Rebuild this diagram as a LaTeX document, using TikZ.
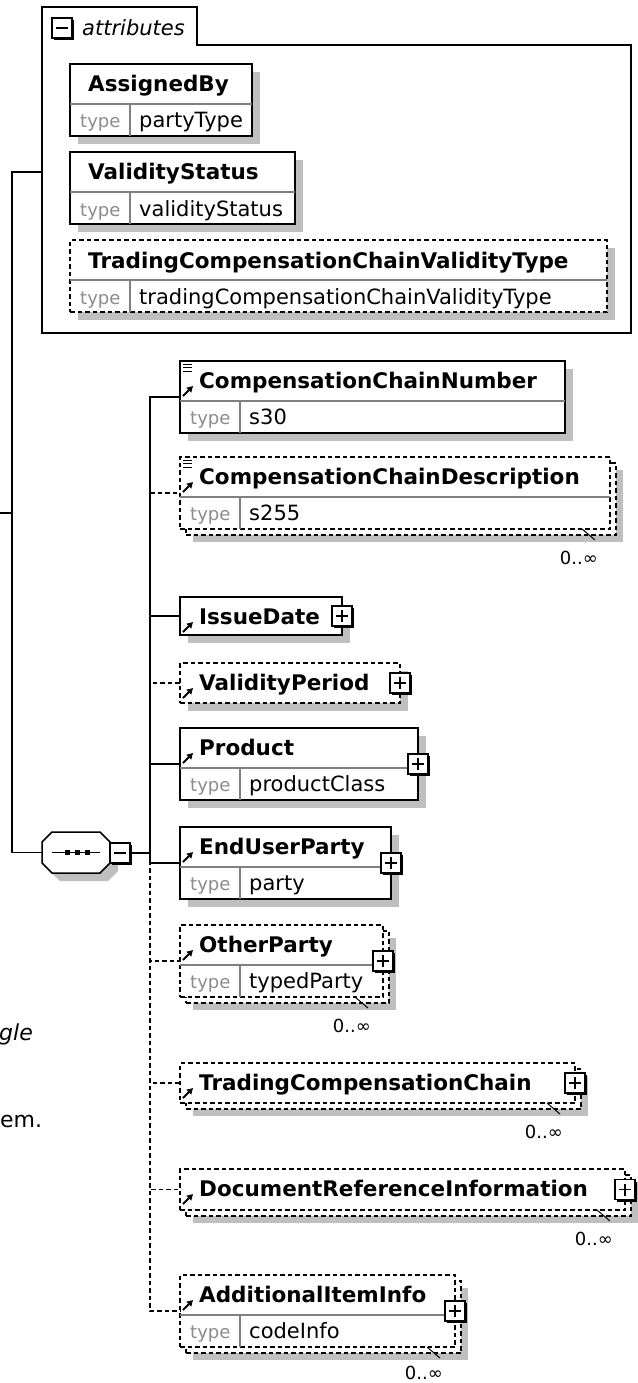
\documentclass[tikz,border=0pt]{standalone}
\usepackage{fontspec}
\setmainfont{DejaVu Sans}
\usetikzlibrary{shadows, arrows.meta}

\begin{document}
\begin{tikzpicture}[
    x=1pt, y=-1pt,
    shadowed/.style={drop shadow={shadow xshift=8pt, shadow yshift=-8pt,
        fill=black!25, opacity=1}},
    box/.style={draw, fill=white, line width=1.8pt, inner sep=0pt,
        outer sep=0pt, anchor=north west},
    elem/.style={box, shadowed},
    optelem/.style={elem, dash pattern=on 4.5pt off 3pt},
    manybox/.style={box, dash pattern=on 4.5pt off 3pt},
    stack/.style={manybox, drop shadow={shadow xshift=7pt,
        shadow yshift=-7pt, fill=black!25, opacity=1}},
    elname/.style={font=\bfseries\fontsize{21.5}{25}\selectfont,
        anchor=base west, inner sep=0pt},
    typelbl/.style={font=\fontsize{18}{22}\selectfont, text=black!45,
        anchor=base west, inner sep=0pt},
    typeval/.style={font=\fontsize{21}{25}\selectfont,
        anchor=base west, inner sep=0pt},
    card/.style={font=\fontsize{18}{22}\selectfont,
        anchor=base east, inner sep=0pt},
    rowsep/.style={draw=black!50, line width=1.2pt},
    conn/.style={line width=1.4pt},
    optconn/.style={conn, dash pattern=on 4.5pt off 3pt},
    icon/.style={draw, fill=white, minimum size=20pt, inner sep=0pt,
        line width=1.3pt, drop shadow={shadow xshift=2pt,
        shadow yshift=-2pt, fill=black, opacity=1}},
    expand/.style={icon, path picture={\draw[line width=1.3pt]
        ([xshift=4pt]path picture bounding box.west) --
        ([xshift=-4pt]path picture bounding box.east)
        ([yshift=-4pt]path picture bounding box.north) --
        ([yshift=4pt]path picture bounding box.south);}},
    collapse/.style={icon, path picture={\draw[line width=1.3pt]
        ([xshift=4pt]path picture bounding box.west) --
        ([xshift=-4pt]path picture bounding box.east);}},
    seqbox/.style={minimum width=68pt, minimum height=41pt,
        inner sep=0pt, outer sep=0pt},
    seqline/.style={draw, fill=white, line width=1.5pt, shadowed},
    ref/.style={line width=2pt, -{Triangle[length=6pt, width=6.5pt]}},
    simple/.style={line width=1pt}
]
\useasboundingbox (0,0) rectangle (637,1383);

% --- attributes group ---
\draw[line width=1.5pt] (42,7) -- (197,7) -- (197,45) -- (631,45)
    -- (631,333) -- (42,333) -- cycle;
\node[collapse] (attr-x) at (62,28) {};
\node[font=\itshape\fontsize{21}{25}\selectfont, anchor=base west,
    inner sep=0pt] (attr-t) at (82,36) {attributes};
\coordinate (attrs) at (42,172);

\node[elem, minimum width=182pt, minimum height=72pt] (ab) at (70,64) {};
\node[elname] (ab-t) at (88,92) {AssignedBy};
\node[typelbl] (ab-k) at (80,128) {type};
\node[typeval] (ab-v) at (139,128) {partyType};

\node[elem, minimum width=225pt, minimum height=72pt] (vs) at (70,152) {};
\node[elname] (vs-t) at (88,180) {ValidityStatus};
\node[typelbl] (vs-k) at (80,216) {type};
\node[typeval] (vs-v) at (139,216) {validityStatus};

\node[optelem, minimum width=537pt, minimum height=72pt] (tcv) at (70,240) {};
\node[elname] (tcv-t) at (88,268) {TradingCompensationChainValidityType};
\node[typelbl] (tcv-k) at (80,304) {type};
\node[typeval] (tcv-v) at (139,304) {tradingCompensationChainValidityType};

% --- sequence compositor ---
\node[seqbox] (seq) at (76,852.5) {};
\draw[seqline] ([xshift=10pt]seq.north west) -- ([xshift=-10pt]seq.north east)
    -- ([yshift=-10pt]seq.north east) -- ([yshift=10pt]seq.south east)
    -- ([xshift=-10pt]seq.south east) -- ([xshift=10pt]seq.south west)
    -- ([yshift=10pt]seq.south west) -- ([yshift=-10pt]seq.north west) -- cycle;
\node[collapse] (seq-x) at (120,853) {};
\coordinate (spine) at (150,853);
\draw[line width=1.3pt] ([xshift=10pt]seq.west) -- ([xshift=-10pt]seq.east);
\foreach \dx in {-9,1,11}
    \fill ([xshift=\dx pt]seq.center) +(-2.5,-2.5) rectangle +(2.5,2.5);

% --- child elements ---
\node[elem, minimum width=385pt, minimum height=72pt] (ccn) at (180,361) {};
\node[elname] (ccn-t) at (199,388) {CompensationChainNumber};
\node[typelbl] (ccn-k) at (190,424) {type};
\node[typeval] (ccn-v) at (249,424) {s30};

\node[stack, minimum width=430pt, minimum height=72pt] (ccd-s) at (186,463) {};
\node[manybox, minimum width=430pt, minimum height=72pt] (ccd) at (180,457) {};
\node[elname] (ccd-t) at (199,484) {CompensationChainDescription};
\node[typelbl] (ccd-k) at (190,520) {type};
\node[typeval] (ccd-v) at (249,520) {s255};

\node[elem, minimum width=162pt, minimum height=38pt] (idt) at (180,597) {};
\node[elname] (idt-t) at (199,624) {IssueDate};

\node[optelem, minimum width=220pt, minimum height=40pt] (vp) at (180,663) {};
\node[elname] (vp-t) at (199,690) {ValidityPeriod};

\node[elem, minimum width=238pt, minimum height=72pt] (prd) at (180,728) {};
\node[elname] (prd-t) at (199,755) {Product};
\node[typelbl] (prd-k) at (190,791) {type};
\node[typeval] (prd-v) at (249,791) {productClass};

\node[elem, minimum width=211pt, minimum height=72pt] (eup) at (180,827) {};
\node[elname] (eup-t) at (199,854) {EndUserParty};
\node[typelbl] (eup-k) at (190,890) {type};
\node[typeval] (eup-v) at (249,890) {party};

\node[stack, minimum width=203pt, minimum height=72pt] (op-s) at (186,931) {};
\node[manybox, minimum width=203pt, minimum height=72pt] (op) at (180,925) {};
\node[elname] (op-t) at (199,952) {OtherParty};
\node[typelbl] (op-k) at (190,988) {type};
\node[typeval] (op-v) at (249,988) {typedParty};

\node[stack, minimum width=395pt, minimum height=40pt] (tcc-s) at (186,1069) {};
\node[manybox, minimum width=395pt, minimum height=40pt] (tcc) at (180,1063) {};
\node[elname] (tcc-t) at (199,1090) {TradingCompensationChain};

\node[stack, minimum width=445pt, minimum height=41pt] (dri-s) at (186,1175) {};
\node[manybox, minimum width=445pt, minimum height=41pt] (dri) at (180,1169) {};
\node[elname] (dri-t) at (199,1196) {DocumentReferenceInformation};

\node[stack, minimum width=275pt, minimum height=72pt] (aii-s) at (186,1281) {};
\node[manybox, minimum width=275pt, minimum height=72pt] (aii) at (180,1275) {};
\node[elname] (aii-t) at (199,1302) {AdditionalItemInfo};
\node[typelbl] (aii-k) at (190,1338) {type};
\node[typeval] (aii-v) at (249,1338) {codeInfo};

% --- type rows ---
\foreach \nm in {ab,vs,tcv,ccn,ccd,prd,eup,op,aii}
    \draw[rowsep] ([yshift=-40pt]\nm.north west) -- ([yshift=-40pt]\nm.north east)
        ([shift={(60,40)}]\nm.north west) -- ([xshift=60pt]\nm.south west);

% --- icons ---
\foreach \nm in {ccn,ccd,idt,vp,prd,eup,op,tcc,dri,aii}
    \draw[ref] ([shift={(3,35)}]\nm.north west) -- ++(10,-10);
\foreach \nm in {ccn,ccd}
    \draw[simple] ([shift={(3,3)}]\nm.north west) -- ++(9,0)
        ++(-9,3.5) -- ++(9,0) ++(-9,3.5) -- ++(9,0);
\foreach \nm in {idt,vp,prd,eup,op,tcc,dri,aii}
    \node[expand] (\nm-x) at (\nm.east) {};

% --- occurrences ---
\foreach \nm/\dy in {ccd/35,op/35,tcc/35,dri/35,aii/32} {
    \draw[simple] ([xshift=-28pt]\nm.south east) -- ++(13,11);
    \node[card] (\nm-m) at ([shift={(-12,\dy)}]\nm.south east) {0..∞};
}

% --- connectors ---
\coordinate (parent) at (-2,513);
\coordinate (root) at (12,513);
\draw[conn] (parent) -- (root) |- (attrs);
\draw[conn] (root) |- (seq);
\draw[conn] (seq-x) -- (spine);
\draw[optconn] (spine) |- (ccd);
\draw[optconn] (spine) |- (vp);
\draw[optconn] (spine) |- (op);
\draw[optconn] (spine) |- (tcc);
\draw[optconn] (spine) |- (dri);
\draw[optconn] (spine) |- (aii);
\draw[conn] (spine) |- (ccn);
\draw[conn] (spine) |- (idt);
\draw[conn] (spine) |- (prd);
\draw[conn] (spine) |- (eup);

% --- clipped page text ---
\node[font=\itshape\fontsize{22}{26}\selectfont, anchor=base west,
    inner sep=0pt] (frag-a) at (-1,1040) {gle};
\node[font=\fontsize{22}{26}\selectfont, anchor=base west,
    inner sep=0pt] (frag-b) at (0,1127) {em.};

\end{tikzpicture}
\end{document}
